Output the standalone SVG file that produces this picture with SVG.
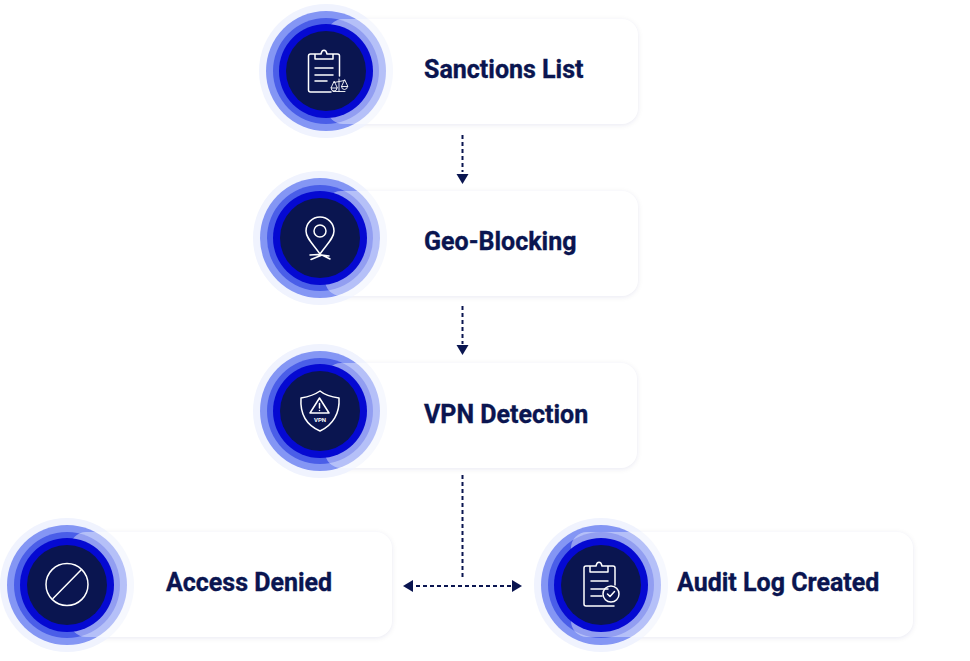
<svg xmlns="http://www.w3.org/2000/svg" width="970" height="661" viewBox="0 0 970 661">
<style>
.card{fill:#fff}
.shadow{fill:#1a2460;fill-opacity:.09;filter:url(#blur)}
.veil{fill:#fff;fill-opacity:.4}
.r1{fill:#f0f3fe}
.r2{fill:#8496f4}
.r3{fill:#4a5ee8}
.r4{fill:#0509d2}
.r5{fill:#0a1550}
.ico{fill:none;stroke:#fff;stroke-width:1.5;stroke-linecap:round;stroke-linejoin:round}
.fine{stroke-width:.9}
.lbl{font-family:Roboto,"Liberation Sans",sans-serif;font-weight:700;font-size:25px;fill:#0a1550;stroke:#0a1550;stroke-width:.35}
.vpn{font-family:Roboto,"Liberation Sans",sans-serif;font-weight:700;font-size:6px;fill:#fff;text-anchor:middle}
.dash{fill:none;stroke:#0a1550;stroke-width:2;stroke-dasharray:4 3}
.head{fill:#0a1550}
</style>
<defs>
<filter id="blur" x="-10%" y="-20%" width="120%" height="140%"><feGaussianBlur stdDeviation="2.5"/></filter>
<g id="rings"><circle class="r1" r="67"/><circle class="r2" r="60"/><circle class="r3" r="53"/></g>
<g id="core"><circle class="r4" r="47"/><circle class="r5" r="40"/></g>
</defs>
<rect width="970" height="661" fill="#fff"/>
<g id="connectors">
<path class="dash" d="M462.500 135V172"/>
<path class="head" d="M456.500 174H468.500L462.500 184Z"/>
<path class="dash" d="M462.500 306V344"/>
<path class="head" d="M456.500 345H468.500L462.500 355Z"/>
<path class="dash" d="M462.500 475V580"/>
<path class="dash" d="M416 586H512"/>
<path class="head" d="M413 580V592L403 586Z"/>
<path class="head" d="M512 580V592L522 586Z"/>
</g>
<g id="node-sanctions">
<rect class="shadow" x="327" y="20" width="311" height="105" rx="16"/>
<rect class="card" x="327" y="19" width="311" height="105" rx="16"/>
<use href="#rings" x="326" y="71"/>
<rect class="veil" x="327" y="19" width="311" height="105" rx="16"/>
<use href="#core" x="326" y="71"/>
<path class="ico" d="M315 54H310.500A2 2 0 0 0 308.500 56V90A2 2 0 0 0 310.500 92H331M333 54H337.500A2 2 0 0 1 339.500 56V76M315 54V59H333V54H327C326 49 322 49 321 54Z"/>
<path class="ico" d="M315 68H333M315 75H333M315 81H327"/>
<path class="ico fine" d="M339 79V91.500M333 91.500H345M334 82.500L344.500 80.500M334 81.500L331 88H337ZM344.500 80L341.500 86.500H347.500ZM331 88A3 3 0 0 0 337 88M341.500 86.500A3 3 0 0 0 347.500 86.500"/>
<text class="lbl" x="424" y="78">Sanctions List</text>
</g>
<g id="node-geo">
<rect class="shadow" x="325" y="192" width="313" height="105" rx="16"/>
<rect class="card" x="325" y="191" width="313" height="105" rx="16"/>
<use href="#rings" x="320" y="238"/>
<rect class="veil" x="325" y="191" width="313" height="105" rx="16"/>
<use href="#core" x="320" y="238"/>
<path class="ico" d="M320 254C313 244 306 238 306 231A14 14 0 0 1 334 231C334 238 327 244 320 254Z"/>
<circle class="ico" cx="320" cy="231" r="6"/>
<path class="ico" d="M311 259.500L322 255L330 259M310 255L318 254.500L329 256"/>
<text class="lbl" x="424" y="250">Geo-Blocking</text>
</g>
<g id="node-vpn">
<rect class="shadow" x="325" y="364" width="312" height="105" rx="16"/>
<rect class="card" x="325" y="363" width="312" height="105" rx="16"/>
<use href="#rings" x="320" y="411"/>
<rect class="veil" x="325" y="363" width="312" height="105" rx="16"/>
<use href="#core" x="320" y="411"/>
<path class="ico" d="M320 391C313 396 307 397 301 398C300 413 306 425 320 431C333 425 340 413 339 398C332 397 326 396 320 391Z"/>
<path class="ico" d="M319.500 398L329 413H310Z"/>
<path class="ico" d="M319.500 403.500V408M319.500 410.500V410.600"/>
<text class="vpn" x="320" y="421.500">VPN</text>
<text class="lbl" x="424" y="423">VPN Detection</text>
</g>
<g id="node-denied">
<rect class="shadow" x="70" y="533" width="322" height="105" rx="16"/>
<rect class="card" x="70" y="532" width="322" height="105" rx="16"/>
<use href="#rings" x="67" y="585"/>
<rect class="veil" x="70" y="532" width="322" height="105" rx="16"/>
<use href="#core" x="67" y="585"/>
<circle class="ico" cx="67" cy="584.500" r="21"/>
<path class="ico" d="M53 598.500L81 570"/>
<text class="lbl" x="166" y="591">Access Denied</text>
</g>
<g id="node-audit">
<rect class="shadow" x="571" y="533" width="342" height="105" rx="16"/>
<rect class="card" x="571" y="532" width="342" height="105" rx="16"/>
<use href="#rings" x="601" y="585"/>
<rect class="veil" x="571" y="532" width="342" height="105" rx="16"/>
<use href="#core" x="601" y="585"/>
<path class="ico" d="M590 566H586A2 2 0 0 0 584 568V604A2 2 0 0 0 586 606H614M608 566H613A2 2 0 0 1 615 568V585M590 566V572H608V566H602C601 561 597 561 596 566Z"/>
<path class="ico" d="M591 581H608M591 589H608M591 596H602"/>
<circle class="ico" cx="611" cy="594" r="8"/>
<path class="ico" d="M607.500 594L610 596.500L614.500 591.500"/>
<text class="lbl" x="677" y="591">Audit Log Created</text>
</g>
</svg>
